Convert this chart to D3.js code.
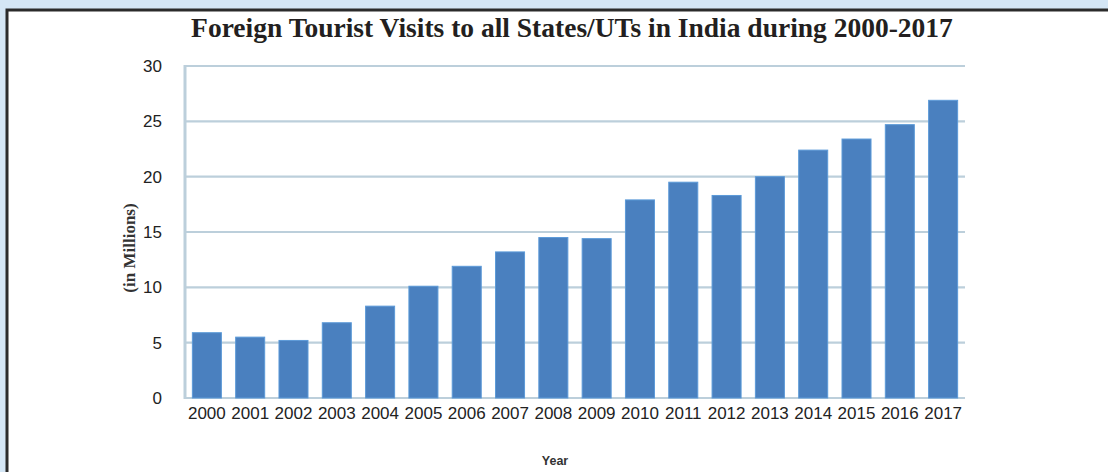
<!DOCTYPE html>
<html><head><meta charset="utf-8">
<script src="https://cdn.jsdelivr.net/npm/d3@7"></script>
<style>body{margin:0;background:#d4e6f5;}svg{display:block;}</style>
</head><body><svg id="c" width="1108" height="472"></svg>
<script>
const years = ["2000","2001","2002","2003","2004","2005","2006","2007","2008","2009","2010","2011","2012","2013","2014","2015","2016","2017"];
const visits = [5.9,5.5,5.2,6.8,8.3,10.1,11.9,13.2,14.5,14.4,17.9,19.5,18.3,20.0,22.4,23.4,24.7,26.9];
const yTicks = [0,5,10,15,20,25,30];
const title = "Foreign Tourist Visits to all States/UTs in India during 2000-2017";

const svg = d3.select("#c");
svg.append("rect").attr("x",0).attr("y",0).attr("width",1108).attr("height",472).attr("fill","#d4e6f5");
svg.append("rect").attr("x",7).attr("y",10).attr("width",1120).attr("height",480)
  .attr("fill","#fff").attr("stroke","#2b2b2b").attr("stroke-width",3);

const L=185, R=965, T=66, B=398;
const x = d3.scaleBand().domain(years).range([L,R]).paddingInner(0.33).paddingOuter(0.17);
const y = d3.scaleLinear().domain([0,30]).range([B,T]);

const g = svg.append("g");
g.selectAll("line.grid").data(yTicks).join("line").attr("class","grid")
  .attr("x1",L).attr("x2",R).attr("y1",d=>y(d)).attr("y2",d=>y(d))
  .attr("stroke","#bccfdb").attr("stroke-width",2.2);
g.append("line").attr("x1",L).attr("x2",L).attr("y1",T-1).attr("y2",B+1)
  .attr("stroke","#bccfdb").attr("stroke-width",3);

g.selectAll("rect.bar").data(visits).join("rect").attr("class","bar")
  .attr("x",(d,i)=>x(years[i])).attr("width",x.bandwidth())
  .attr("y",d=>y(d)).attr("height",d=>y(0)-y(d))
  .attr("fill","#4a80bf").attr("stroke","#5c9ad8").attr("stroke-width",1);

const yAxis = d3.axisLeft(y).tickValues(yTicks).tickSize(0).tickPadding(23);
const ya = svg.append("g").attr("transform",`translate(${L},0)`).call(yAxis);
ya.select(".domain").remove();
ya.selectAll("text").attr("font-family","Liberation Sans, Arial, sans-serif").attr("font-size",17).attr("fill","#222");

const xAxis = d3.axisBottom(x).tickSize(0).tickPadding(9);
const xa = svg.append("g").attr("transform",`translate(0,${B})`).call(xAxis);
xa.select(".domain").remove();
xa.selectAll("text").attr("font-family","Liberation Sans, Arial, sans-serif").attr("font-size",17).attr("fill","#222");

svg.append("text").attr("x",572).attr("y",37).attr("text-anchor","middle")
  .attr("font-family","Liberation Serif, Times New Roman, serif").attr("font-weight","bold")
  .attr("font-size",27.5).attr("fill","#231f20").text(title);

svg.append("text").attr("x",555).attr("y",465).attr("text-anchor","middle")
  .attr("font-family","Liberation Sans, Arial, sans-serif").attr("font-weight","bold")
  .attr("font-size",12.5).attr("fill","#333").text("Year");

svg.append("text").attr("transform","translate(135,248) rotate(-90)").attr("text-anchor","middle")
  .attr("font-family","Liberation Serif, Times New Roman, serif").attr("font-weight","bold")
  .attr("font-size",17).attr("fill","#333").text("(in Millions)");
</script></body></html>
